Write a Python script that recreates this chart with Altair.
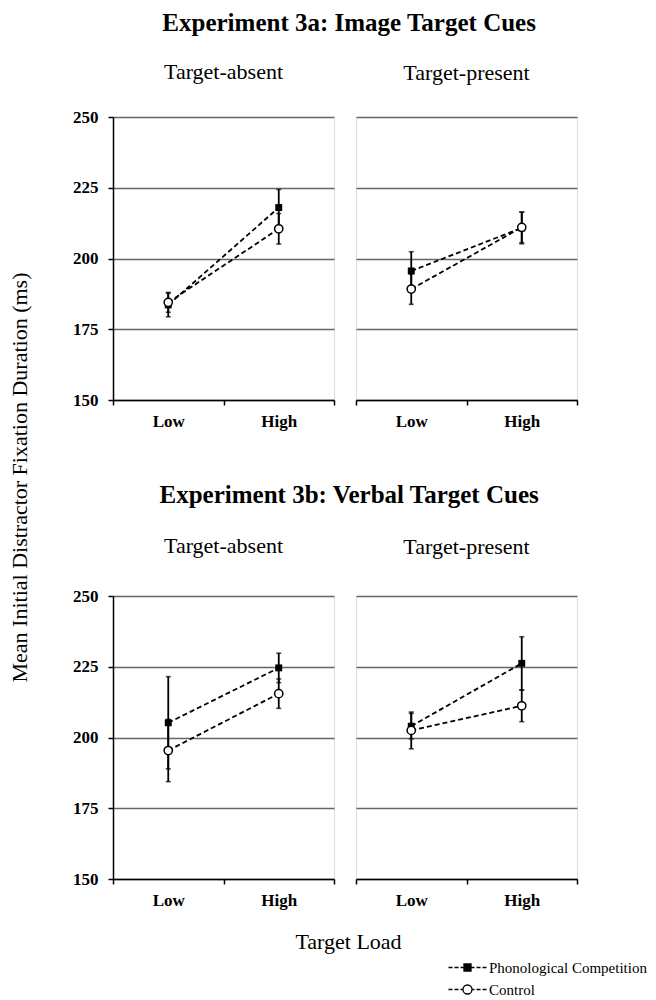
import altair as alt
import pandas as pd

SERIF = "Liberation Serif"

loads = ["Low", "High"]
conditions = ["Phonological Competition", "Control"]
row_titles = ["Experiment 3a: Image Target Cues", "Experiment 3b: Verbal Target Cues"]
col_titles = ["Target-absent", "Target-present"]
y_ticks = [150, 175, 200, 225, 250]

# Experiment 3a (image cues)
a_absent_phon = [183.6, 218.0]
a_absent_phon_err = [4.2, 6.4]
a_absent_ctrl = [184.5, 210.5]
a_absent_ctrl_err = [3.5, 5.4]
a_present_phon = [195.6, 210.8]
a_present_phon_err = [6.8, 5.6]
a_present_ctrl = [189.2, 211.0]
a_present_ctrl_err = [5.4, 5.4]

# Experiment 3b (verbal cues)
b_absent_phon = [205.2, 224.6]
b_absent_phon_err = [16.3, 5.2]
b_absent_ctrl = [195.4, 215.5]
b_absent_ctrl_err = [11.0, 5.2]
b_present_phon = [204.0, 226.2]
b_present_phon_err = [4.5, 9.4]
b_present_ctrl = [202.5, 211.2]
b_present_ctrl_err = [6.5, 5.6]

PW, PH = 221, 283

# legend glyphs: "---marker---" drawn as one symbol path (unit = half the symbol size)
DASHES = "M-6.6,0H-5.8M-5.4,0H-4.6M-4.2,0H-3.6M-2.0,0H-1.4M-1.0,0H-0.2M0.2,0H1.0"
PATH_PHON = DASHES + "M-3.5,-0.7H-2.1V0.7H-3.5Z"
PATH_CTRL = DASHES + "M-1.9,0A0.9,0.9 0 1,1 -3.7,0A0.9,0.9 0 1,1 -1.9,0Z"


def panel(phon, phon_err, ctrl, ctrl_err, title, left, sub_offset):
    rows = []
    for cond, vals, errs in ((conditions[0], phon, phon_err), (conditions[1], ctrl, ctrl_err)):
        for ld, v, e in zip(loads, vals, errs):
            rows.append({"load": ld, "cond": cond, "mean": v, "lo": v - e, "hi": v + e})
    df = pd.DataFrame(rows)

    x = alt.X(
        "load:N", sort=loads, bandPosition=0.5,
        scale=alt.Scale(type="band", domain=loads, paddingInner=0, paddingOuter=0),
        axis=alt.Axis(title=None, labelAngle=0, labelFont=SERIF, labelFontSize=17,
                      labelFontWeight="bold", labelColor="black", labelPadding=8,
                      domainColor="black", domainWidth=1.5, tickBand="extent",
                      tickColor="black", tickWidth=1.5, tickSize=5, grid=False),
    )
    yscale = alt.Scale(domain=[150, 250], nice=False, zero=False)
    if left:
        yaxis = alt.Axis(title=None, values=y_ticks, grid=True, gridColor="#666666",
                         gridWidth=1.4, domainColor="black", domainWidth=1.5,
                         tickColor="black", tickWidth=1.5, tickSize=5,
                         labelFont=SERIF, labelFontSize=17, labelFontWeight="bold",
                         labelColor="black", labelPadding=10)
    else:
        yaxis = alt.Axis(title=None, values=y_ticks, grid=True, gridColor="#666666",
                         gridWidth=1.4, domain=False, ticks=False, labels=False)
    y = alt.Y("mean:Q", scale=yscale, axis=yaxis)

    base = alt.Chart(df)
    lines = base.mark_line(color="black", strokeWidth=1.8, strokeDash=[5, 3]).encode(
        x=x, y=y, detail="cond:N")
    bars = base.mark_rule(color="black", strokeWidth=1.8).encode(
        x=x, y=alt.Y("lo:Q", scale=yscale), y2="hi:Q")
    cap_lo = base.mark_tick(color="black", thickness=1.6, size=5).encode(
        x=x, y=alt.Y("lo:Q", scale=yscale))
    cap_hi = base.mark_tick(color="black", thickness=1.6, size=5).encode(
        x=x, y=alt.Y("hi:Q", scale=yscale))
    sq = base.transform_filter(alt.datum.cond == conditions[0]).mark_point(
        shape="square", filled=True, color="black", size=48, opacity=1).encode(x=x, y=y)
    ci = base.transform_filter(alt.datum.cond == conditions[1]).mark_point(
        shape="circle", filled=True, fill="white", stroke="black", strokeWidth=1.5,
        size=68, opacity=1).encode(x=x, y=y)
    off = sub_offset - 8 if left else sub_offset
    return alt.layer(lines, bars, cap_lo, cap_hi, sq, ci).properties(
        width=PW, height=PH,
        title=alt.TitleParams(title, font=SERIF, fontSize=22, fontWeight="normal",
                              color="black", anchor="middle", frame="group", offset=off),
    )


def row(title, data, title_offset, sub_offset):
    return alt.hconcat(
        panel(*data[0], col_titles[0], True, sub_offset),
        panel(*data[1], col_titles[1], False, sub_offset),
        spacing=18,
    ).properties(title=alt.TitleParams(title, font=SERIF, fontSize=25, fontWeight="bold",
                                       color="black", anchor="middle", dx=24,
                                       offset=title_offset))


row_a = row(row_titles[0], [
    (a_absent_phon, a_absent_phon_err, a_absent_ctrl, a_absent_ctrl_err),
    (a_present_phon, a_present_phon_err, a_present_ctrl, a_present_ctrl_err)], 25, 32)
row_b = row(row_titles[1], [
    (b_absent_phon, b_absent_phon_err, b_absent_ctrl, b_absent_ctrl_err),
    (b_present_phon, b_present_phon_err, b_present_ctrl, b_present_ctrl_err)], 27, 37)

rows_block = alt.vconcat(row_a, row_b, spacing=52).properties(
    title=alt.TitleParams("Mean Initial Distractor Fixation Duration (ms)", orient="left",
                          anchor="middle", font=SERIF, fontSize=22, fontWeight="normal",
                          color="black", offset=40, dx=-18))

legend = alt.Legend(title=None, orient="none", legendX=361, legendY=843,
                    labelFont=SERIF, labelFontSize=15, labelColor="black",
                    symbolSize=100, symbolStrokeWidth=1.3, symbolStrokeColor="black",
                    symbolOpacity=1, rowPadding=6, labelOffset=0)
leg_df = pd.DataFrame({"Legend": conditions})
leg_scale = alt.Scale(domain=conditions, range=[PATH_PHON, PATH_CTRL])
bottom = alt.Chart(leg_df).mark_point(filled=True, opacity=0, size=100).encode(
    shape=alt.Shape("Legend:N", sort=conditions, scale=leg_scale, legend=legend),
    fill=alt.Fill("Legend:N", sort=conditions,
                  scale=alt.Scale(domain=conditions, range=["black", "white"]),
                  legend=legend),
    stroke=alt.Stroke("Legend:N", sort=conditions,
                      scale=alt.Scale(domain=conditions, range=["black", "black"]),
                      legend=legend),
).properties(width=465, height=1,
             title=alt.TitleParams("Target Load", font=SERIF, fontSize=22,
                                   fontWeight="normal", color="black", anchor="middle",
                                   dx=3, offset=4))

chart = alt.vconcat(rows_block, bottom, spacing=21).configure_view(stroke=None).configure(
    font=SERIF, padding={"left": 0, "top": 2, "right": 0, "bottom": 0})

chart.save("out.html", embed_options={"renderer": "svg", "actions": False})
